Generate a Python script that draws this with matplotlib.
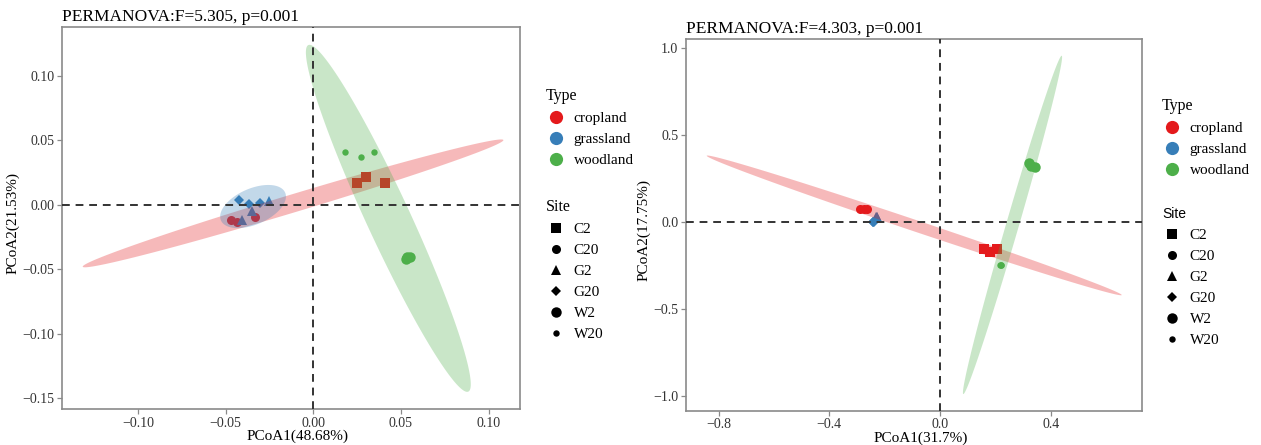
import numpy as np
import matplotlib
matplotlib.use("Agg")
import matplotlib.pyplot as plt
from matplotlib.lines import Line2D

# ---- categories and styling keys ----
type_names = ["cropland", "grassland", "woodland"]
type_colors = ["#E41A1C", "#377EB8", "#4DAF4A"]
site_names = ["C2", "C20", "G2", "G20", "W2", "W20"]
site_types = ["cropland", "cropland", "grassland", "grassland", "woodland", "woodland"]
site_markers = ["s", "o", "^", "D", "o", "o"]
site_msizes = [6.5, 6.5, 7.0, 5.0, 7.5, 4.6]

# ---- panel A: PCoA scores per site (three replicates each) ----
a_x = {
    "C2": [0.0247, 0.0301, 0.0409],
    "C20": [-0.0469, -0.0434, -0.0331],
    "G2": [-0.0251, -0.0351, -0.0408],
    "G20": [-0.0426, -0.0369, -0.0304],
    "W2": [0.0529, 0.0536, 0.0552],
    "W20": [0.0181, 0.0270, 0.0345],
}
a_y = {
    "C2": [0.0168, 0.0217, 0.0168],
    "C20": [-0.0121, -0.0134, -0.0093],
    "G2": [0.0031, -0.0047, -0.0119],
    "G20": [0.0034, 0.0005, 0.0016],
    "W2": [-0.0424, -0.0408, -0.0404],
    "W20": [0.0409, 0.0368, 0.0409],
}
# confidence ellipses: centre and two conjugate semi-axes (data units)
a_ell_center = {"cropland": (-0.01158, 0.00105), "grassland": (-0.0344, -0.0014),
                "woodland": (0.04278, -0.01056)}
a_ell_axis1 = {"cropland": (0.1200, 0.04918), "grassland": (0.01831, 0.01079),
               "woodland": (0.04564, -0.13455)}
a_ell_axis2 = {"cropland": (0.00148, -0.00669), "grassland": (0.00408, -0.01281),
               "woodland": (0.0114, 0.00716)}
a_title = "PERMANOVA:F=5.305, p=0.001"
a_xlabel = "PCoA1(48.68%)"
a_ylabel = "PCoA2(21.53%)"
a_xticks = [-0.10, -0.05, 0.00, 0.05, 0.10]
a_yticks = [-0.15, -0.10, -0.05, 0.00, 0.05, 0.10]

# ---- panel B ----
b_x = {
    "C2": [0.159, 0.181, 0.207],
    "C20": [-0.289, -0.275, -0.265],
    "G2": [-0.229, -0.231, -0.227],
    "G20": [-0.241, -0.238, -0.243],
    "W2": [0.323, 0.343, 0.330],
    "W20": [0.219, 0.220, 0.218],
}
b_y = {
    "C2": [-0.157, -0.171, -0.157],
    "C20": [0.0748, 0.0748, 0.073],
    "G2": [0.030, 0.027, 0.028],
    "G20": [0.002, -0.002, 0.000],
    "W2": [0.338, 0.315, 0.325],
    "W20": [-0.248, -0.250, -0.246],
}
b_ell_center = {"cropland": (-0.0932, -0.0193), "woodland": (0.2620, -0.0164)}
b_ell_axis1 = {"cropland": (0.7499, -0.4010), "woodland": (0.1778, 0.9738)}
b_ell_axis2 = {"cropland": (0.00654, 0.0311), "woodland": (0.0222, -0.0103)}
b_title = "PERMANOVA:F=4.303, p=0.001"
b_xlabel = "PCoA1(31.7%)"
b_ylabel = "PCoA2(17.75%)"
b_xticks = [-0.8, -0.4, 0.0, 0.4]
b_yticks = [-1.0, -0.5, 0.0, 0.5, 1.0]

SERIF = ["Liberation Serif", "DejaVu Serif"]
SANS = ["Liberation Sans", "DejaVu Sans"]
plt.rcParams["font.family"] = SERIF
plt.rcParams["axes.unicode_minus"] = True

color_of = dict(zip(type_names, type_colors))
FRAME = "#8a8a8a"


def draw_panel(ax, xs, ys, centers, ax1, ax2, title, xlabel, ylabel,
               xticks, yticks, fmt, xlim, ylim):
    ax.set_xlim(*xlim)
    ax.set_ylim(*ylim)
    for s, t, m, ms in zip(site_names, site_types, site_markers, site_msizes):
        ax.plot(xs[s], ys[s], linestyle="none", marker=m, ms=ms,
                color=color_of[t], markeredgewidth=0, zorder=2)
    tt = np.linspace(0, 2 * np.pi, 200)
    for t in type_names:
        if t not in centers:
            continue
        c = np.array(centers[t])
        u = np.array(ax1[t])
        v = np.array(ax2[t])
        pts = c[None, :] + np.cos(tt)[:, None] * u + np.sin(tt)[:, None] * v
        ax.fill(pts[:, 0], pts[:, 1], color=color_of[t], alpha=0.3,
                linewidth=0, zorder=3)
    ax.axhline(0, color="#333333", lw=1.4, ls=(0, (4, 3)), zorder=4)
    ax.axvline(0, color="#333333", lw=1.4, ls=(0, (4, 3)), zorder=4)
    ax.set_xticks(xticks)
    ax.set_yticks(yticks)
    ax.set_xticklabels([fmt.format(v).replace("-", "\u2212") for v in xticks])
    ax.set_yticklabels([fmt.format(v).replace("-", "\u2212") for v in yticks])
    ax.tick_params(length=3.5, width=0.9, color=FRAME, labelsize=10,
                   labelcolor="#333333", pad=2)
    for sp in ax.spines.values():
        sp.set_color(FRAME)
        sp.set_linewidth(1.2)
    ax.set_xlabel(xlabel, fontsize=11, labelpad=0)
    ax.set_ylabel(ylabel, fontsize=11, labelpad=2)
    ax.xaxis.set_label_coords(0.514, -0.055)
    ax.yaxis.label.set_y(0.487)
    ax.set_title(title, loc="left", fontsize=12.5, pad=4.5)


def add_legends(fig, x, y_type, y_site, site_title_family):
    W, H = fig.get_size_inches() * fig.dpi
    type_handles = [Line2D([], [], ls="none", marker="o", ms=9.5, color=c,
                           markeredgewidth=0) for c in type_colors]
    fig.legend(type_handles, type_names, title="Type", loc="upper left",
               bbox_to_anchor=(x / W, 1 - y_type / H), frameon=False,
               borderpad=0, borderaxespad=0, handlelength=1.25,
               handletextpad=0.55, labelspacing=0.48, fontsize=11,
               title_fontsize=11.5, alignment="left")
    site_handles = [Line2D([], [], ls="none", marker=m, ms=ms, color="black",
                           markeredgewidth=0)
                    for m, ms in zip(site_markers, site_msizes)]
    lg2 = fig.legend(site_handles, site_names, title="Site", loc="upper left",
                     bbox_to_anchor=(x / W, 1 - y_site / H), frameon=False,
                     borderpad=0, borderaxespad=0, handlelength=1.25,
                     handletextpad=0.55, labelspacing=0.48, fontsize=11,
                     title_fontsize=11.5, alignment="left")
    lg2.get_title().set_family(site_title_family)
    if site_title_family == SANS:
        lg2.get_title().set_fontsize(10)


fig = plt.figure(figsize=(12.61, 4.45), dpi=100)
W, H = 1261, 445
axA = fig.add_axes([62 / W, 1 - 409 / H, 458 / W, 382 / H])
axB = fig.add_axes([686 / W, 1 - 410.7 / H, 456 / W, 371.4 / H])

draw_panel(axA, a_x, a_y, a_ell_center, a_ell_axis1, a_ell_axis2, a_title,
           a_xlabel, a_ylabel, a_xticks, a_yticks, "{:.2f}",
           (-0.1434, 0.1179), (-0.1586, 0.138))
draw_panel(axB, b_x, b_y, b_ell_center, b_ell_axis1, b_ell_axis2, b_title,
           b_xlabel, b_ylabel, b_xticks, b_yticks, "{:.1f}",
           (-0.918, 0.730), (-1.086, 1.052))

add_legends(fig, 546, 88, 199, SERIF)
add_legends(fig, 1162, 98, 207, SANS)

fig.savefig("out.png", dpi=100)
